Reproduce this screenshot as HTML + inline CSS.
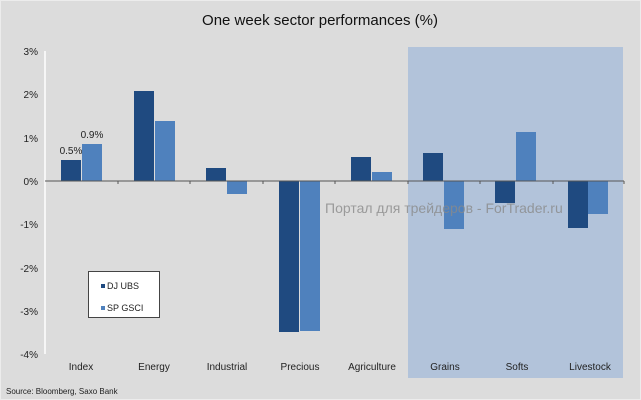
<!DOCTYPE html>
<html><head><meta charset="utf-8"><style>
body{margin:0;background:#fff}
svg{display:block;font-family:"Liberation Sans","DejaVu Sans",sans-serif}
</style></head><body>
<svg width="641" height="400" viewBox="0 0 641 400">
<rect x="0" y="0" width="641" height="400" fill="#dcdcdc"/>
<rect x="0.5" y="0.5" width="640" height="399" fill="none" stroke="#ececec"/>
<text x="320" y="25" font-size="15" text-anchor="middle" fill="#111">One week sector performances (%)</text>
<rect x="408" y="47" width="215" height="331" fill="#b2c3da"/>
<!-- y axis -->
<line x1="45" y1="51" x2="45" y2="354" stroke="#fff" stroke-width="1.5"/>
<g font-size="10" fill="#222" text-anchor="end">
<text x="38" y="55">3%</text><text x="38" y="98">2%</text><text x="38" y="142">1%</text>
<text x="38" y="185">0%</text><text x="38" y="228">-1%</text><text x="38" y="272">-2%</text>
<text x="38" y="315">-3%</text><text x="38" y="358">-4%</text>
</g>
<g fill="#1f4a80">
<rect x="61" y="160" width="20" height="21"/>
<rect x="134" y="91" width="20" height="90"/>
<rect x="206" y="168" width="20" height="13"/>
<rect x="279" y="181" width="20" height="151"/>
<rect x="351" y="157" width="20" height="24"/>
<rect x="423" y="153" width="20" height="28"/>
<rect x="495" y="181" width="20" height="22"/>
<rect x="568" y="181" width="20" height="47"/>
</g>
<g fill="#4f81bd">
<rect x="82" y="144" width="20" height="37"/>
<rect x="155" y="121" width="20" height="60"/>
<rect x="227" y="181" width="20" height="13"/>
<rect x="300" y="181" width="20" height="150"/>
<rect x="372" y="172" width="20" height="9"/>
<rect x="444" y="181" width="20" height="48"/>
<rect x="516" y="132" width="20" height="49"/>
<rect x="588" y="181" width="20" height="33"/>
</g>
<line x1="45" y1="181" x2="624" y2="181" stroke="#555" stroke-width="1"/>
<g stroke="#555"><line x1="118" y1="181" x2="118" y2="184"/><line x1="190" y1="181" x2="190" y2="184"/><line x1="263" y1="181" x2="263" y2="184"/><line x1="335" y1="181" x2="335" y2="184"/><line x1="408" y1="181" x2="408" y2="184"/><line x1="480" y1="181" x2="480" y2="184"/><line x1="553" y1="181" x2="553" y2="184"/><line x1="624" y1="181" x2="624" y2="184"/></g>
<text x="71" y="154" font-size="10" text-anchor="middle" fill="#222">0.5%</text>
<text x="92" y="138" font-size="10" text-anchor="middle" fill="#222">0.9%</text>
<g font-size="10" fill="#222" text-anchor="middle">
<text x="81" y="370">Index</text><text x="154" y="370">Energy</text><text x="227" y="370">Industrial</text>
<text x="300" y="370">Precious</text><text x="372" y="370">Agriculture</text><text x="445" y="370">Grains</text>
<text x="517" y="370">Softs</text><text x="590" y="370">Livestock</text>
</g>
<text x="325" y="213" font-size="14" fill="#8a8a8a" opacity="0.8">Портал для трейдеров - ForTrader.ru</text>
<rect x="88.5" y="271.5" width="71" height="46" fill="#fff" stroke="#444"/>
<rect x="101" y="284" width="4" height="4" fill="#1f4a80"/>
<text x="107" y="289" font-size="9" fill="#222">DJ UBS</text>
<rect x="101" y="306" width="4" height="4" fill="#4f81bd"/>
<text x="107" y="311" font-size="9" fill="#222">SP GSCI</text>
<text x="6" y="394" font-size="8" fill="#222">Source: Bloomberg, Saxo Bank</text>
</svg>
</body></html>
